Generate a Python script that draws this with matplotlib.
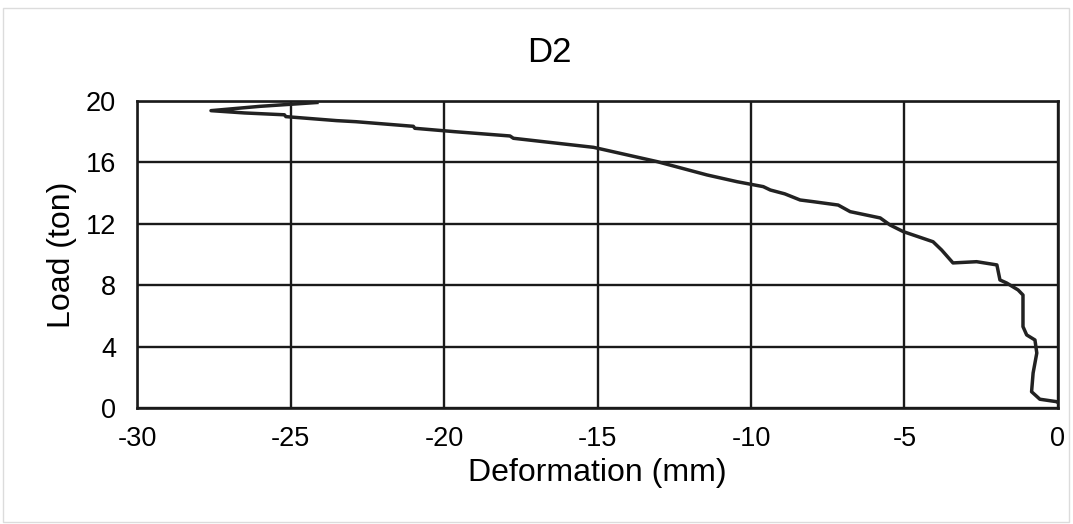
import matplotlib.pyplot as plt
from matplotlib.patches import Rectangle

plt.rcParams['font.family'] = ['Liberation Sans', 'DejaVu Sans']
plt.rcParams['axes.unicode_minus'] = False

# load-deformation curve (from the start of loading)
deformation = [0.0, -0.04, -0.59, -0.86, -0.81, -0.69, -0.75, -1.02, -1.14, -1.14,
               -1.30, -1.67, -1.89, -1.99, -2.65, -3.42, -3.79, -4.07, -5.04, -5.47,
               -5.79, -6.77, -7.16, -7.97, -8.40, -8.9, -9.37, -9.60, -10.45, -11.43,
               -13.06, -15.13, -17.74, -17.85, -19.65, -20.95, -21.0, -22.87, -23.5,
               -25.15, -25.2, -26.5, -27.59, -26.0, -24.14]
load = [0.35, 0.41, 0.57, 1.06, 2.28, 3.58, 4.43, 4.76, 5.3, 7.36,
        7.69, 8.14, 8.34, 9.32, 9.53, 9.45, 10.29, 10.83, 11.49, 11.92,
        12.38, 12.79, 13.22, 13.44, 13.55, 13.95, 14.2, 14.42, 14.74, 15.18,
        16.05, 16.98, 17.57, 17.72, 18.0, 18.22, 18.35, 18.65, 18.72,
        18.98, 19.1, 19.22, 19.37, 19.65, 19.9]

x_ticks = [-30, -25, -20, -15, -10, -5, 0]
y_ticks = [0, 4, 8, 12, 16, 20]

fig = plt.figure(figsize=(10.73, 5.24), dpi=100)
fig.patches.append(Rectangle((0.003, 0.004), 0.993, 0.98, transform=fig.transFigure,
                             fill=False, edgecolor='#dcdcdc', linewidth=1))
ax = fig.add_axes([0.1277, 0.2214, 0.8583, 0.5859])

ax.plot(deformation, load, color='#222222', linewidth=2.5, zorder=3)

ax.set_xlim(-30, 0)
ax.set_ylim(0, 20)
ax.set_xticks(x_ticks)
ax.set_yticks(y_ticks)
ax.tick_params(length=0, labelsize=19.5)
ax.tick_params(axis='x', pad=13)
ax.tick_params(axis='y', pad=15)
ax.grid(True, color='#1a1a1a', linewidth=1.7)
for s in ax.spines.values():
    s.set_color('#1a1a1a')
    s.set_linewidth(1.9)

fig.text(549 / 1073, 1 - 62 / 524, 'D2', fontsize=25, ha='center', va='baseline')
ax.set_xlabel('Deformation (mm)', fontsize=23, labelpad=4)
ax.set_ylabel('Load (ton)', fontsize=23, labelpad=6)

fig.savefig('out.png', dpi=100)
